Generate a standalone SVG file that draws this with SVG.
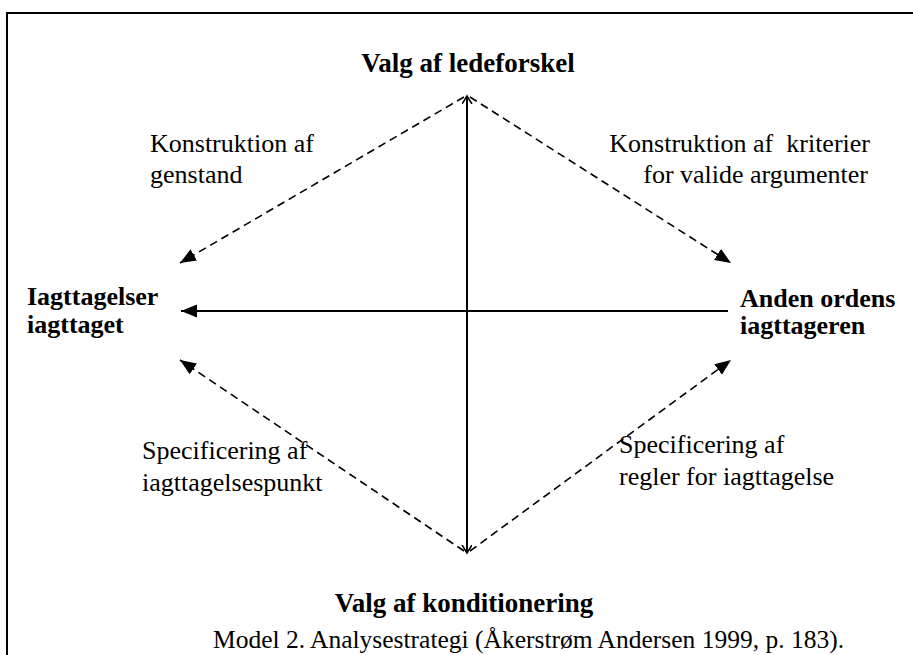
<svg xmlns="http://www.w3.org/2000/svg" width="913" height="655" viewBox="0 0 913 655">
<style>
.t{font-family:"Liberation Serif","Times New Roman",serif;font-size:26px;fill:#000}
.b{font-weight:bold}
.solid{stroke:#000;stroke-width:2;fill:none}
.dash{stroke:#000;stroke-width:1.6;fill:none;stroke-dasharray:8 5}
</style>
<defs>
<marker id="fa" markerUnits="userSpaceOnUse" markerWidth="18" markerHeight="14" refX="16" refY="6.5" orient="auto">
<path d="M0,0 L16,6.5 L0,13 z" fill="#000"/>
</marker>
<marker id="oa" markerUnits="userSpaceOnUse" markerWidth="12" markerHeight="12" refX="8" refY="5" orient="auto">
<path d="M0,0 L8,5 L0,10" fill="none" stroke="#000" stroke-width="1.6"/>
</marker>
</defs>
<rect x="0" y="0" width="913" height="655" fill="#fff"/>
<rect x="7" y="13" width="930" height="700" fill="none" stroke="#000" stroke-width="2"/>

<g id="connectors">
<line class="solid" x1="467" y1="311" x2="467" y2="96" marker-end="url(#oa)"/>
<line class="solid" x1="467" y1="311" x2="467" y2="553" marker-end="url(#oa)"/>
<line class="solid" x1="728" y1="311" x2="181" y2="311" marker-end="url(#fa)"/>
<line class="dash" x1="464" y1="97" x2="180" y2="263" marker-end="url(#fa)"/>
<line class="dash" x1="470" y1="97" x2="731" y2="263" marker-end="url(#fa)"/>
<line class="dash" x1="464" y1="551" x2="180" y2="360" marker-end="url(#fa)"/>
<line class="dash" x1="470" y1="551" x2="731" y2="360" marker-end="url(#fa)"/>
</g>

<g id="top"><text class="t b" x="468" y="72" text-anchor="middle" style="font-size:27px">Valg af ledeforskel</text></g>
<g id="bottom"><text class="t b" x="464" y="612" text-anchor="middle" style="font-size:27px">Valg af konditionering</text></g>
<g id="left"><text class="t b" x="27" y="305">Iagttagelser</text><text class="t b" x="27" y="333">iagttaget</text></g>
<g id="right"><text class="t b" x="740" y="307">Anden ordens</text><text class="t b" x="740" y="334">iagttageren</text></g>

<g id="lbl-tl"><text class="t" x="150" y="152">Konstruktion af</text><text class="t" x="150" y="183">genstand</text></g>
<g id="lbl-tr"><text class="t" x="870" y="152" text-anchor="end" xml:space="preserve">Konstruktion af  kriterier</text><text class="t" x="868" y="183" text-anchor="end">for valide argumenter</text></g>
<g id="lbl-bl"><text class="t" x="142" y="459">Specificering af</text><text class="t" x="142" y="491">iagttagelsespunkt</text></g>
<g id="lbl-br"><text class="t" x="619" y="453">Specificering af</text><text class="t" x="619" y="485">regler for iagttagelse</text></g>

<g id="caption"><text class="t" x="213" y="648" style="font-size:25.5px">Model 2. Analysestrategi (Åkerstrøm Andersen 1999, p. 183).</text></g>
</svg>
